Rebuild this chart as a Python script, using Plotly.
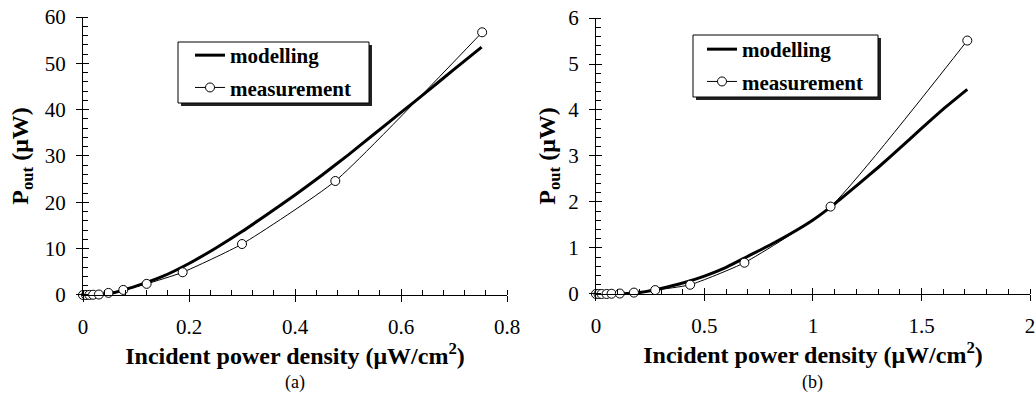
import plotly.graph_objects as go

# ---------------- data ----------------
# panel (a)
a_meas_x = [0, 0.0057, 0.012, 0.019, 0.030, 0.048, 0.076, 0.120, 0.188, 0.300, 0.476, 0.753]
a_meas_y = [0, 0, 0.02, 0.05, 0.1, 0.45, 1.1, 2.4, 4.9, 11.0, 24.6, 56.7]
a_model_x = [0, 0.02, 0.04, 0.06, 0.08, 0.10, 0.15, 0.20, 0.25, 0.30, 0.35, 0.40,
             0.45, 0.50, 0.55, 0.60, 0.65, 0.70, 0.752]
a_model_y = [0, 0, 0.15, 0.55, 1.2, 1.9, 4.0, 6.8, 10.1, 13.7, 17.6, 21.6,
             25.8, 30.2, 34.8, 39.4, 44.0, 48.7, 53.5]
# panel (b)
b_meas_x = [0, 0.012, 0.026, 0.049, 0.072, 0.11, 0.175, 0.273, 0.434, 0.684, 1.081, 1.711]
b_meas_y = [0, 0, 0, 0, 0.005, 0.01, 0.03, 0.085, 0.2, 0.68, 1.90, 5.51]
b_model_x = [0, 0.1, 0.15, 0.2, 0.25, 0.3, 0.4, 0.5, 0.6, 0.7, 0.8, 0.9, 1.0,
             1.1, 1.2, 1.3, 1.4, 1.5, 1.6, 1.711]
b_model_y = [0, 0, 0.01, 0.03, 0.07, 0.12, 0.24, 0.39, 0.58, 0.82, 1.06, 1.32, 1.61,
             1.96, 2.35, 2.75, 3.17, 3.6, 4.02, 4.45]

series_names = ["modelling", "measurement"]
x_title = "<b>Incident power density (μW/cm<sup>2</sup>)</b>"
y_title = "<b>P<sub>out</sub> (μW)</b>"
panel_labels = ["(a)", "(b)"]

FONT = "Liberation Serif"
W, H = 1035, 402

fig = go.Figure()

def add_panel(mx, my, ex, ey, xa, ya, legend):
    fig.add_trace(go.Scatter(x=mx, y=my, mode="lines", name="<b>%s</b>" % series_names[0],
                             line=dict(color="black", width=3, shape="spline", smoothing=0.6),
                             xaxis=xa, yaxis=ya, legend=legend, legendgroup=legend + "m",
                             cliponaxis=False))
    fig.add_trace(go.Scatter(x=ex, y=ey, mode="lines+markers", name="<b>%s</b>" % series_names[1],
                             line=dict(color="black", width=1, shape="spline", smoothing=0.5),
                             marker=dict(symbol="circle", size=9, color="white",
                                         line=dict(color="black", width=1)),
                             xaxis=xa, yaxis=ya, legend=legend, legendgroup=legend + "e",
                             cliponaxis=False))

add_panel(a_model_x, a_model_y, a_meas_x, a_meas_y, "x", "y", "legend")
add_panel(b_model_x, b_model_y, b_meas_x, b_meas_y, "x2", "y2", "legend2")

# invisible traces to activate overlay axes (crossing major ticks)
fig.add_trace(go.Scatter(x=[None], y=[None], xaxis="x3", yaxis="y3", showlegend=False, hoverinfo="skip"))
fig.add_trace(go.Scatter(x=[None], y=[None], xaxis="x4", yaxis="y4", showlegend=False, hoverinfo="skip"))

tickfont = dict(family=FONT, size=21, color="black")
titlefont = dict(family=FONT, size=24, color="black")

def main_axis(rng, dtick, mdtick, domain, anchor, standoff_lab, title, tstand):
    return dict(range=rng, domain=domain, anchor=anchor, dtick=dtick, tick0=0, automargin=False,
                showgrid=False, zeroline=False, showline=True, linecolor="black", linewidth=1.2,
                ticks="outside", ticklen=6, tickwidth=1.2, tickcolor="black",
                minor=dict(ticks="inside", ticklen=5, dtick=mdtick, tick0=0, tickcolor="black",
                           tickwidth=1, showgrid=False),
                tickfont=tickfont, ticklabelstandoff=standoff_lab, ticklabeloverflow="allow",
                title=dict(text=title, font=titlefont, standoff=tstand), fixedrange=True)

def overlay_axis(rng, dtick, domain, anchor, over):
    return dict(range=rng, domain=domain, anchor=anchor, overlaying=over, dtick=dtick, tick0=0,
                automargin=False,
                showgrid=False, zeroline=False, showline=False, showticklabels=False,
                ticks="inside", ticklen=6, tickwidth=1.2, tickcolor="black", fixedrange=True)

xa_dom = [0.0802, 0.4899]
xb_dom = [0.5758, 0.9952]
ya_dom = [0.2662, 0.9577]
yb_dom = [0.2687, 0.9552]

legend_common = dict(xanchor="left", yanchor="top", borderwidth=0,
                     bgcolor="rgba(0,0,0,0)", font=dict(family=FONT, size=21, color="black"),
                     tracegroupgap=2, indentation=14)

fig.update_layout(
    template="none",
    width=W, height=H,
    margin=dict(l=0, r=0, t=0, b=0),
    paper_bgcolor="white", plot_bgcolor="white",
    font=dict(family=FONT, color="black"),
    xaxis=main_axis([0, 0.8], 0.2, 0.04, xa_dom, "y", 7, x_title, 3),
    yaxis=main_axis([0, 60], 10, 2, ya_dom, "x", 6, y_title, 9),
    xaxis2=main_axis([0, 2], 0.5, 0.1, xb_dom, "y2", 7, x_title, 3),
    yaxis2=main_axis([0, 6], 1, 0.2, yb_dom, "x2", 6, y_title, 5),
    xaxis3=overlay_axis([0, 0.8], 0.2, xa_dom, "y", "x"),
    yaxis3=overlay_axis([0, 60], 10, ya_dom, "x", "y"),
    xaxis4=overlay_axis([0, 2], 0.5, xb_dom, "y2", "x2"),
    yaxis4=overlay_axis([0, 6], 1, yb_dom, "x2", "y2"),
    legend=dict(x=176/W, y=1-35/H, **legend_common),
    legend2=dict(x=688/W, y=1-29/H, **legend_common),
    showlegend=True,
)

# legend frames with drop shadow (pixel boxes converted to paper coords)
def legend_frame(x0, y0, x1, y1):
    off = 3
    fig.add_shape(type="rect", xref="paper", yref="paper",
                  x0=(x0 + off) / W, x1=(x1 + off) / W, y0=1 - (y1 + off) / H, y1=1 - (y0 + off) / H,
                  fillcolor="#222222", line=dict(width=0), layer="above")
    fig.add_shape(type="rect", xref="paper", yref="paper",
                  x0=x0 / W, x1=x1 / W, y0=1 - y1 / H, y1=1 - y0 / H,
                  fillcolor="white", line=dict(color="black", width=1), layer="above")

legend_frame(178, 42, 369, 103)
legend_frame(693, 35, 878, 97)

fig.add_annotation(text=panel_labels[0], x=295/W, y=1-382/H, xref="paper", yref="paper",
                   xanchor="center", yanchor="middle",
                   showarrow=False, font=dict(family=FONT, size=18, color="black"))
fig.add_annotation(text=panel_labels[1], x=812/W, y=1-382/H, xref="paper", yref="paper",
                   xanchor="center", yanchor="middle",
                   showarrow=False, font=dict(family=FONT, size=18, color="black"))

fig.write_html("out.html")
